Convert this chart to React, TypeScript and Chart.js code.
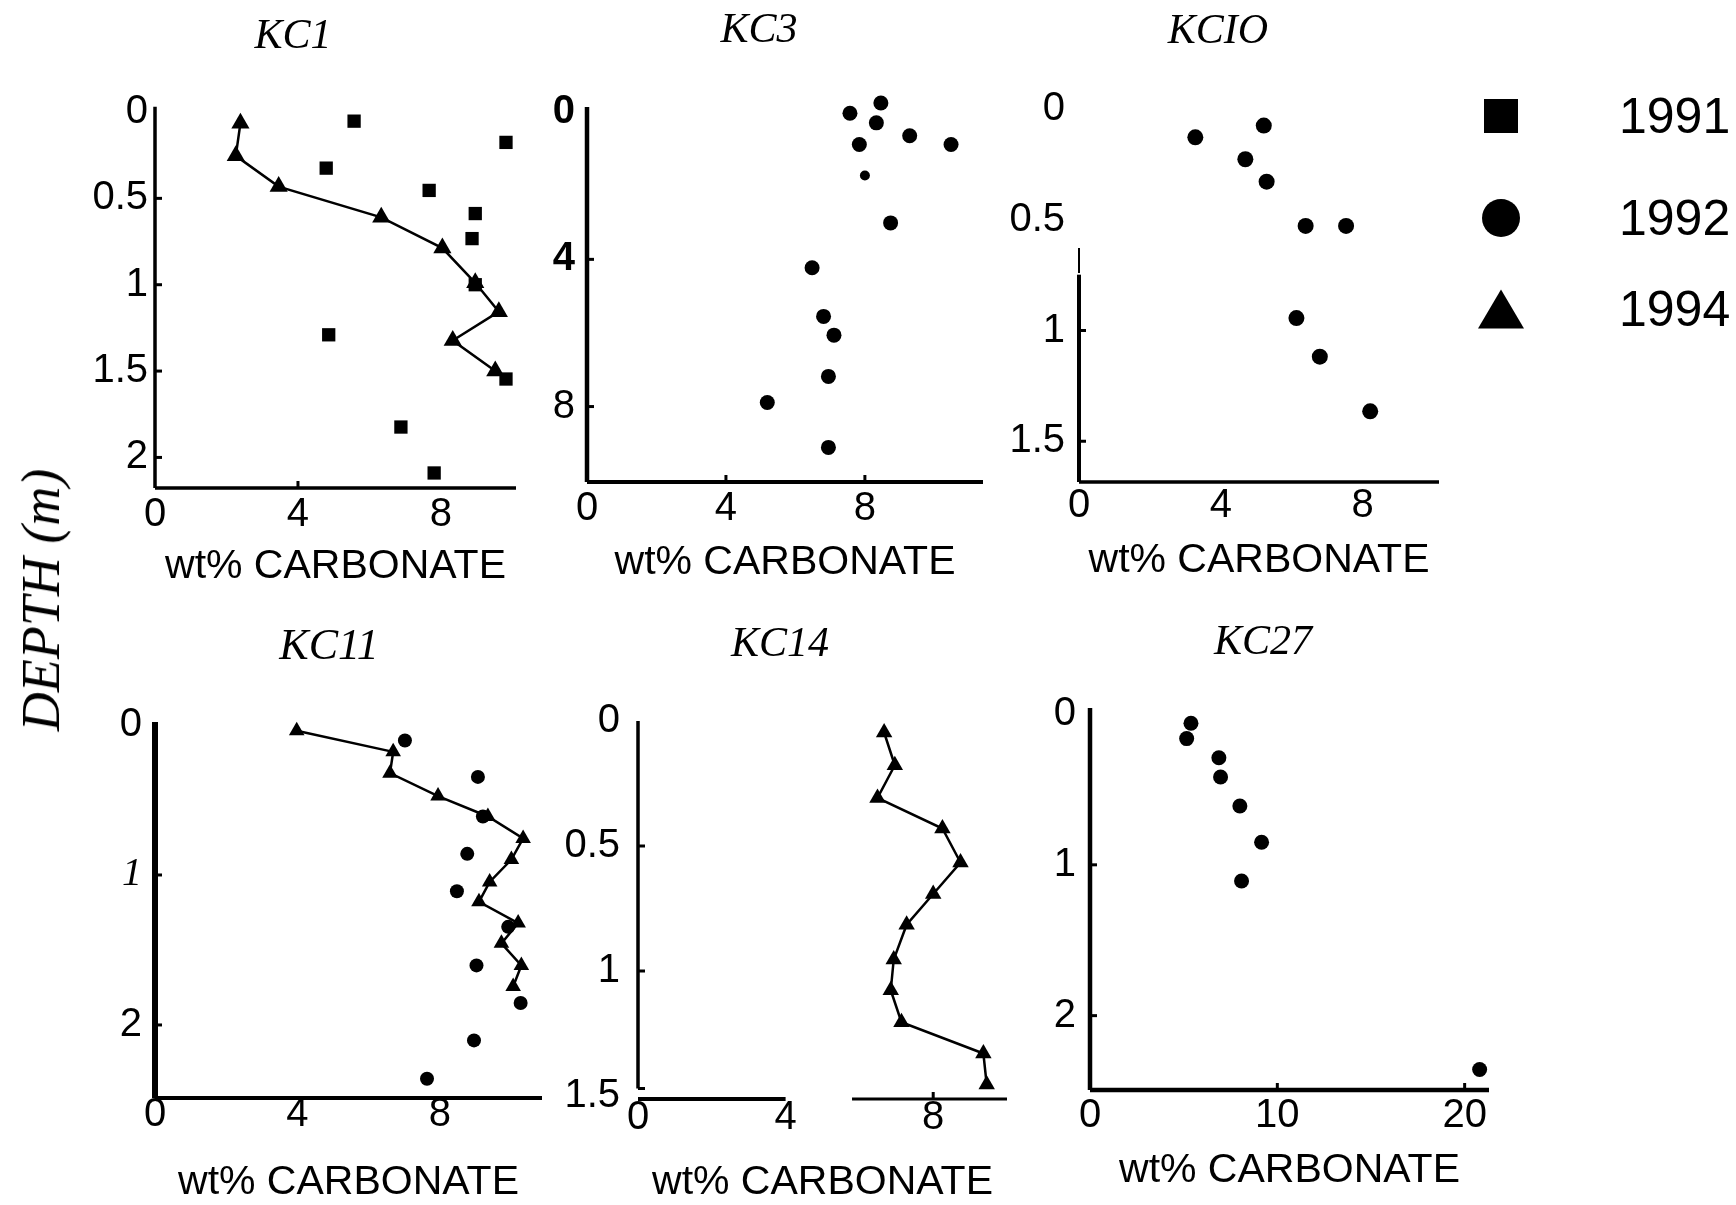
import React, { useEffect, useRef } from "react";
import { Chart, registerables } from "chart.js";

Chart.register(...registerables);

// ---------------- data (wt% carbonate vs depth) ----------------
// KC1
const kc1Carb1991 = [5.57, 9.82, 4.79, 7.67, 8.96, 8.87, 8.96, 4.86, 9.82, 6.88, 7.81];
const kc1Depth1991 = [0.053, 0.176, 0.325, 0.454, 0.588, 0.733, 1.0, 1.29, 1.546, 1.824, 2.09];
const kc1Carb1994 = [2.39, 2.26, 3.46, 6.33, 8.04, 8.96, 9.62, 8.33, 9.52];
const kc1Depth1994 = [0.065, 0.254, 0.432, 0.61, 0.788, 0.989, 1.156, 1.323, 1.5];
// KC3
const kc3Carb1992 = [7.57, 8.46, 8.33, 9.29, 10.48, 7.84, 8.0, 8.74, 6.48, 6.81, 7.11, 6.95, 5.19, 6.95];
const kc3Depth1992 = [0.03, -0.25, 0.29, 0.64, 0.88, 0.88, 1.72, 3.01, 4.23, 5.55, 6.06, 7.18, 7.89, 9.11];
// KC10
const kc10Carb1992 = [3.28, 5.21, 4.69, 5.29, 6.39, 7.53, 6.13, 6.79, 8.21];
const kc10Depth1992 = [0.128, 0.075, 0.227, 0.328, 0.528, 0.528, 0.944, 1.118, 1.365];
// KC11
const kc11Carb1992 = [7.02, 9.07, 9.21, 8.77, 8.48, 9.92, 9.03, 10.27, 8.96, 7.64];
const kc11Depth1992 = [0.103, 0.346, 0.61, 0.859, 1.108, 1.346, 1.603, 1.854, 2.103, 2.359];
const kc11Carb1994 = [3.98, 6.69, 6.6, 7.95, 9.35, 10.34, 10.01, 9.4, 9.1, 10.2, 9.73, 10.29, 10.06];
const kc11Depth1994 = [0.038, 0.179, 0.321, 0.474, 0.61, 0.756, 0.897, 1.046, 1.179, 1.321, 1.456, 1.603, 1.744];
// KC14
const kc14Carb1994 = [6.67, 6.96, 6.49, 8.25, 8.74, 8.0, 7.28, 6.93, 6.85, 7.14, 9.36, 9.45];
const kc14Depth1994 = [0.046, 0.177, 0.308, 0.43, 0.566, 0.692, 0.815, 0.954, 1.077, 1.205, 1.33, 1.454];
// KC27
const kc27Carb1992 = [5.39, 5.16, 6.88, 6.97, 8.0, 9.16, 8.09, 20.8];
const kc27Depth1992 = [0.061, 0.163, 0.29, 0.418, 0.61, 0.85, 1.107, 2.357];

// tick labels
const ticksCarb10 = [0, 4, 8];
const ticksCarb20 = [0, 10, 20];
const ticksDepthHalf = [0, 0.5, 1, 1.5, 2];
const ticksDepthKC3 = [0, 4, 8];
const ticksDepthKC10 = [0, 0.5, 1, 1.5];
const ticksDepthWhole = [0, 1, 2];
const ticksDepthKC14 = [0, 0.5, 1, 1.5];

const legendYears = ["1991", "1992", "1994"];
const xAxisTitle = "wt% CARBONATE";
const yAxisTitle = "DEPTH (m)";

// ---------------- styling ----------------
const SANS = "'Liberation Sans', Arial, Helvetica, sans-serif";
const SERIF = "'Liberation Serif', 'Times New Roman', serif";
const FS = 40;
const PADL = 130;
const PADT = 60;
const PADR = 50;
const XH = 110;

type Seg = [number, number, number];
interface Series {
  xs: number[];
  ys: number[];
  style: string;
  radius: number | number[];
  line?: boolean;
}
interface PanelSpec {
  title: string;
  titlePos: [number, number];
  titleSize: number;
  area: [number, number, number, number];
  xRange: [number, number];
  yRange: [number, number];
  xTicks: number[];
  yTicks: number[];
  xPad: number;
  yPad: number;
  titlePad: number;
  ySegs: Seg[];
  xSegs: Seg[];
  yMarks: number[];
  xMarks: number[];
  series: Series[];
  yFont?: (v: number) => string;
}

const paperAxes = {
  id: "paperAxes",
  beforeDatasetsDraw(chart: any, _args: any, opts: any) {
    const { ctx, chartArea, scales } = chart;
    const xs = scales.x;
    const ys = scales.y;
    ctx.save();
    ctx.strokeStyle = "#000";
    ctx.lineCap = "butt";
    for (const [a, b, w] of opts.ySegs || []) {
      ctx.lineWidth = w;
      ctx.beginPath();
      ctx.moveTo(chartArea.left, ys.getPixelForValue(a));
      ctx.lineTo(chartArea.left, ys.getPixelForValue(b));
      ctx.stroke();
    }
    for (const [a, b, w] of opts.xSegs || []) {
      ctx.lineWidth = w;
      ctx.beginPath();
      ctx.moveTo(xs.getPixelForValue(a), chartArea.bottom);
      ctx.lineTo(xs.getPixelForValue(b), chartArea.bottom);
      ctx.stroke();
    }
    ctx.lineWidth = 3;
    for (const v of opts.yMarks || []) {
      const p = ys.getPixelForValue(v);
      ctx.beginPath();
      ctx.moveTo(chartArea.left, p);
      ctx.lineTo(chartArea.left + 7, p);
      ctx.stroke();
    }
    for (const v of opts.xMarks || []) {
      const p = xs.getPixelForValue(v);
      ctx.beginPath();
      ctx.moveTo(p, chartArea.bottom);
      ctx.lineTo(p, chartArea.bottom - 7);
      ctx.stroke();
    }
    ctx.restore();
  },
};

const panels: PanelSpec[] = [
  {
    title: "KC1",
    titlePos: [293, 34],
    titleSize: 42,
    area: [155, 112, 516, 488],
    xRange: [0, 10.1],
    yRange: [0, 2.177],
    xTicks: ticksCarb10,
    yTicks: ticksDepthHalf,
    xPad: 7,
    yPad: 7,
    titlePad: 11,
    ySegs: [[-0.03, 2.177, 3.5]],
    xSegs: [[0, 10.1, 3.5]],
    yMarks: [0.5, 1, 1.5, 2],
    xMarks: [4],
    series: [
      { xs: kc1Carb1991, ys: kc1Depth1991, style: "rect", radius: 9.4 },
      { xs: kc1Carb1994, ys: kc1Depth1994, style: "triangle", radius: 10.5, line: true },
    ],
  },
  {
    title: "KC3",
    titlePos: [759, 28],
    titleSize: 42,
    area: [587, 107, 983, 482],
    xRange: [0, 11.4],
    yRange: [-0.14, 10.05],
    xTicks: ticksCarb10,
    yTicks: ticksDepthKC3,
    xPad: 7,
    yPad: 12,
    titlePad: 9,
    ySegs: [[-0.14, 10.05, 4.5]],
    xSegs: [[0, 11.4, 4]],
    yMarks: [4, 8],
    xMarks: [4, 8],
    series: [
      {
        xs: kc3Carb1992,
        ys: kc3Depth1992,
        style: "circle",
        radius: [7.5, 7.5, 7.5, 7.5, 7.5, 7.5, 5, 7.5, 7.5, 7.5, 7.5, 7.5, 7.5, 7.5],
      },
    ],
    yFont: (v: number) => (v === 8 ? "normal" : "bold"),
  },
  {
    title: "KCIO",
    titlePos: [1218, 29],
    titleSize: 42,
    area: [1079, 109, 1439, 482],
    xRange: [0, 10.15],
    yRange: [0, 1.684],
    xTicks: ticksCarb10,
    yTicks: ticksDepthKC10,
    xPad: 4,
    yPad: 14,
    titlePad: 11,
    ySegs: [
      [0.627, 0.74, 2],
      [0.748, 1.684, 4],
    ],
    xSegs: [[0, 10.15, 3.5]],
    yMarks: [1, 1.5],
    xMarks: [],
    series: [{ xs: kc10Carb1992, ys: kc10Depth1992, style: "circle", radius: 8 }],
  },
  {
    title: "KC11",
    titlePos: [329, 645],
    titleSize: 44,
    area: [155, 725, 542, 1098],
    xRange: [0, 10.87],
    yRange: [0, 2.487],
    xTicks: ticksCarb10,
    yTicks: ticksDepthWhole,
    xPad: -3,
    yPad: 13,
    titlePad: 5,
    ySegs: [[-0.02, 2.487, 6]],
    xSegs: [[0, 10.87, 4]],
    yMarks: [1, 2],
    xMarks: [],
    series: [
      { xs: kc11Carb1992, ys: kc11Depth1992, style: "circle", radius: 7 },
      { xs: kc11Carb1994, ys: kc11Depth1994, style: "triangle", radius: 9, line: true },
    ],
    yFont: (v: number) => (v === 1 ? "italicSerif" : "normal"),
  },
  {
    title: "KC14",
    titlePos: [780, 642],
    titleSize: 42,
    area: [638, 721, 1007, 1099],
    xRange: [0, 10.0],
    yRange: [0, 1.512],
    xTicks: ticksCarb10,
    yTicks: ticksDepthKC14,
    xPad: -1,
    yPad: 18,
    titlePad: 6,
    ySegs: [[0, 1.47, 3.5]],
    xSegs: [
      [0, 4.0, 4],
      [5.8, 10.0, 3],
    ],
    yMarks: [0.5, 1, 1.47],
    xMarks: [8],
    series: [{ xs: kc14Carb1994, ys: kc14Depth1994, style: "triangle", radius: 9.5, line: true }],
  },
  {
    title: "KC27",
    titlePos: [1263, 640],
    titleSize: 42,
    area: [1090, 714, 1489, 1090],
    xRange: [0, 21.3],
    yRange: [0, 2.493],
    xTicks: ticksCarb20,
    yTicks: ticksDepthWhole,
    xPad: 6,
    yPad: 14,
    titlePad: 9,
    ySegs: [[-0.04, 2.493, 4.5]],
    xSegs: [[0, 21.3, 4.5]],
    yMarks: [1, 2],
    xMarks: [10, 20],
    series: [{ xs: kc27Carb1992, ys: kc27Depth1992, style: "circle", radius: 7.5 }],
  },
];

function tickFont(kind: string) {
  if (kind === "italicSerif") return { family: SERIF, size: FS, style: "italic" as const, lineHeight: 1 };
  if (kind === "bold") return { family: SANS, size: FS, weight: "bold" as const, lineHeight: 1 };
  return { family: SANS, size: FS, lineHeight: 1 };
}

function Panel({ spec }: { spec: PanelSpec }) {
  const ref = useRef<HTMLCanvasElement | null>(null);
  const [L, T, R, B] = spec.area;
  const left = L - PADL;
  const top = T - PADT;
  const width = R - L + PADL + PADR;
  const height = B - T + PADT + XH;

  useEffect(() => {
    if (!ref.current) return;
    const chart = new Chart(ref.current, {
      type: "scatter",
      data: {
        datasets: spec.series.map((s) => ({
          data: s.xs.map((x, i) => ({ x, y: s.ys[i] })),
          pointStyle: s.style as any,
          pointRadius: s.radius as any,
          pointBackgroundColor: "#000",
          pointBorderColor: "#000",
          pointBorderWidth: 0,
          backgroundColor: "#000",
          borderColor: "#000",
          borderWidth: 2.5,
          showLine: !!s.line,
          tension: 0,
          clip: false as any,
        })),
      },
      options: {
        responsive: false,
        animation: false,
        devicePixelRatio: 1,
        events: [],
        layout: { padding: { left: 0, top: PADT, right: PADR, bottom: 0 } },
        plugins: {
          legend: { display: false },
          tooltip: { enabled: false },
          title: { display: false },
          paperAxes: {
            ySegs: spec.ySegs,
            xSegs: spec.xSegs,
            yMarks: spec.yMarks,
            xMarks: spec.xMarks,
          },
        } as any,
        scales: {
          x: {
            type: "linear",
            position: "bottom",
            min: spec.xRange[0],
            max: spec.xRange[1],
            border: { display: false },
            grid: { display: false, drawTicks: false },
            afterBuildTicks: (s: any) => {
              s.ticks = spec.xTicks.map((v) => ({ value: v }));
            },
            afterFit: (s: any) => {
              s.height = XH;
            },
            ticks: {
              padding: spec.xPad,
              color: "#000",
              autoSkip: false,
              maxRotation: 0,
              font: tickFont("normal"),
              callback: (v: any) => String(v),
            },
            title: {
              display: true,
              text: xAxisTitle,
              color: "#000",
              font: { family: SANS, size: 41, lineHeight: 1 },
              padding: { top: 0, bottom: spec.titlePad },
            },
          },
          y: {
            type: "linear",
            position: "left",
            reverse: true,
            min: spec.yRange[0],
            max: spec.yRange[1],
            border: { display: false },
            grid: { display: false, drawTicks: false },
            afterBuildTicks: (s: any) => {
              s.ticks = spec.yTicks.map((v) => ({ value: v }));
            },
            afterFit: (s: any) => {
              s.width = PADL;
            },
            ticks: {
              padding: spec.yPad,
              color: "#000",
              autoSkip: false,
              font: (ctx: any) =>
                tickFont(spec.yFont && ctx.tick ? spec.yFont(ctx.tick.value) : "normal"),
              callback: (v: any) => String(v),
            },
          },
        },
      } as any,
      plugins: [paperAxes as any],
    });
    return () => chart.destroy();
  }, [spec]);

  return (
    <>
      <canvas
        ref={ref}
        width={width}
        height={height}
        style={{ position: "absolute", left, top, width, height, display: "block" }}
      />
      <div
        style={{
          position: "absolute",
          left: spec.titlePos[0],
          top: spec.titlePos[1],
          transform: "translate(-50%, -50%)",
          fontFamily: SERIF,
          fontStyle: "italic",
          fontSize: spec.titleSize,
          lineHeight: 1,
          whiteSpace: "nowrap",
          color: "#000",
        }}
      >
        {spec.title}
      </div>
    </>
  );
}

function LegendMarker({ kind }: { kind: number }) {
  if (kind === 0) return <div style={{ width: 34, height: 34, background: "#000" }} />;
  if (kind === 1) return <div style={{ width: 38, height: 38, borderRadius: "50%", background: "#000" }} />;
  return (
    <div
      style={{
        width: 0,
        height: 0,
        borderLeft: "23px solid transparent",
        borderRight: "23px solid transparent",
        borderBottom: "39px solid #000",
      }}
    />
  );
}

const legendRowY = [116, 218, 309];

export default function App() {
  return (
    <div
      style={{
        position: "absolute",
        left: 0,
        top: 0,
        width: 1736,
        height: 1205,
        background: "#fff",
        overflow: "hidden",
      }}
    >
      {panels.map((p) => (
        <Panel key={p.title} spec={p} />
      ))}
      <div
        style={{
          position: "absolute",
          left: 41,
          top: 600,
          transform: "translate(-50%, -50%) rotate(-90deg)",
          fontFamily: SERIF,
          fontStyle: "italic",
          fontSize: 54,
          lineHeight: 1,
          whiteSpace: "nowrap",
          color: "#000",
        }}
      >
        {yAxisTitle}
      </div>
      {legendYears.map((yr, i) => (
        <React.Fragment key={yr}>
          <div
            style={{
              position: "absolute",
              left: 1501,
              top: legendRowY[i],
              transform: "translate(-50%, -50%)",
            }}
          >
            <LegendMarker kind={i} />
          </div>
          <div
            style={{
              position: "absolute",
              left: 1619,
              top: legendRowY[i],
              transform: "translateY(-50%)",
              fontFamily: SANS,
              fontSize: 50,
              lineHeight: 1,
              color: "#000",
            }}
          >
            {yr}
          </div>
        </React.Fragment>
      ))}
    </div>
  );
}
